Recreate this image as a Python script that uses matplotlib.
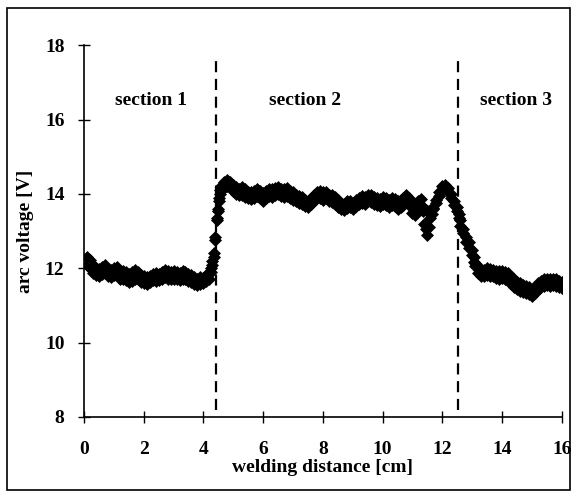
import matplotlib
matplotlib.use("Agg")
import matplotlib.pyplot as plt
from matplotlib.patches import Rectangle

# ---- data (upper and lower readings of the band) ----
distance_cm = [0.1, 0.2, 0.3, 0.4, 0.5, 0.6, 0.7, 0.8, 0.9, 1.0,
               1.1, 1.2, 1.3, 1.4, 1.5, 1.6, 1.7, 1.8, 1.9, 2.0,
               2.1, 2.2, 2.3, 2.4, 2.5, 2.6, 2.7, 2.8, 2.9, 3.0,
               3.1, 3.2, 3.3, 3.4, 3.5, 3.6, 3.7, 3.8, 3.9, 4.0,
               4.1, 4.2, 4.25, 4.3, 4.35, 4.4, 4.45, 4.48, 4.52, 4.56,
               4.6, 4.7, 4.8, 4.9, 5.0, 5.1, 5.2, 5.3, 5.4, 5.5,
               5.6, 5.7, 5.8, 5.9, 6.0, 6.1, 6.2, 6.3, 6.4, 6.5,
               6.6, 6.7, 6.8, 6.9, 7.0, 7.1, 7.2, 7.3, 7.4, 7.5,
               7.6, 7.7, 7.8, 7.9, 8.0, 8.1, 8.2, 8.3, 8.4, 8.5,
               8.6, 8.7, 8.8, 8.9, 9.0, 9.1, 9.2, 9.3, 9.4, 9.5,
               9.6, 9.7, 9.8, 9.9, 10.0, 10.1, 10.2, 10.3, 10.4, 10.5,
               10.6, 10.7, 10.8, 10.9, 11.0, 11.1, 11.2, 11.3, 11.35, 11.4,
               11.45, 11.5, 11.55, 11.6, 11.65, 11.7, 11.8, 11.9, 12.0, 12.1,
               12.2, 12.3, 12.4, 12.5, 12.55, 12.6, 12.7, 12.8, 12.9, 13.0,
               13.05, 13.1, 13.2, 13.3, 13.4, 13.5, 13.6, 13.7, 13.8, 13.9,
               14.0, 14.1, 14.2, 14.3, 14.4, 14.5, 14.6, 14.7, 14.8, 14.9,
               15.0, 15.1, 15.2, 15.3, 15.4, 15.5, 15.6, 15.7, 15.8, 15.9,
               16.0]
voltage_upper_V = [12.3, 12.22, 12.08, 12.02, 11.98, 12.04, 12.08, 11.98, 11.95, 12.02,
                   12.04, 11.94, 11.92, 11.9, 11.85, 11.9, 11.96, 11.9, 11.82, 11.8,
                   11.76, 11.8, 11.85, 11.88, 11.84, 11.9, 11.96, 11.92, 11.9, 11.92,
                   11.9, 11.86, 11.92, 11.9, 11.85, 11.82, 11.76, 11.72, 11.76, 11.75,
                   11.82, 11.88, 12.0, 12.2, 12.4, 12.85, 13.35, 13.6, 13.9, 14.1,
                   14.22, 14.32, 14.38, 14.33, 14.24, 14.18, 14.14, 14.18, 14.12, 14.06,
                   14.04, 14.08, 14.14, 14.08, 14.02, 14.08, 14.14, 14.12, 14.16, 14.18,
                   14.14, 14.12, 14.15, 14.08, 14.04, 13.98, 13.94, 13.92, 13.84, 13.82,
                   13.9, 13.98, 14.06, 14.08, 14.04, 14.06, 13.98, 13.96, 13.92, 13.84,
                   13.76, 13.74, 13.8, 13.82, 13.76, 13.84, 13.9, 13.94, 13.92, 13.98,
                   13.96, 13.92, 13.9, 13.86, 13.92, 13.9, 13.84, 13.9, 13.86, 13.8,
                   13.84, 13.9, 13.98, 13.9, 13.65, 13.6, 13.8, 13.86, 13.55, 13.2,
                   13.05, 12.9, 13.1, 13.35, 13.45, 13.6, 13.85, 14.05, 14.2, 14.25,
                   14.15, 14.0, 13.8, 13.65, 13.45, 13.3, 13.05, 12.85, 12.7, 12.5,
                   12.3, 12.15, 12.04, 11.99, 11.96, 12.02, 11.99, 11.96, 11.94, 11.92,
                   11.94, 11.9, 11.86, 11.76, 11.7, 11.62, 11.6, 11.55, 11.52, 11.5,
                   11.42, 11.5, 11.6, 11.66, 11.7, 11.72, 11.7, 11.72, 11.7, 11.66,
                   11.64]
voltage_lower_V = [12.08, 12.0, 11.88, 11.82, 11.8, 11.85, 11.88, 11.78, 11.76, 11.82,
                   11.85, 11.72, 11.7, 11.68, 11.62, 11.65, 11.72, 11.7, 11.62, 11.6,
                   11.58, 11.62, 11.68, 11.65, 11.68, 11.72, 11.76, 11.72, 11.7, 11.72,
                   11.7, 11.68, 11.72, 11.7, 11.65, 11.62, 11.58, 11.56, 11.58, 11.6,
                   11.66, 11.72, 11.9, 12.1, 12.3, 12.75, 13.3, 13.55, 13.8, 14.0,
                   14.12, 14.15, 14.2, 14.18, 14.08, 14.0, 13.96, 13.98, 13.92, 13.88,
                   13.86, 13.9, 13.95, 13.9, 13.82, 13.9, 13.95, 13.92, 13.98, 14.0,
                   13.95, 13.92, 13.95, 13.9, 13.85, 13.8, 13.75, 13.72, 13.68, 13.65,
                   13.72, 13.82, 13.88, 13.9, 13.85, 13.88, 13.8, 13.78, 13.72, 13.65,
                   13.6, 13.58, 13.62, 13.65, 13.6, 13.68, 13.72, 13.75, 13.72, 13.8,
                   13.78, 13.72, 13.7, 13.68, 13.72, 13.7, 13.65, 13.7, 13.68, 13.6,
                   13.65, 13.7, 13.8, 13.7, 13.48, 13.42, 13.6, 13.68, 13.65, 13.6,
                   13.58, 13.55, 13.55, 13.58, 13.6, 13.62, 13.75, 13.95, 14.1, 14.15,
                   14.05, 13.9, 13.7, 13.55, 13.35, 13.15, 12.95, 12.72, 12.55, 12.35,
                   12.18, 12.05, 11.86, 11.8, 11.78, 11.82, 11.8, 11.78, 11.75, 11.72,
                   11.75, 11.7, 11.68, 11.58, 11.5, 11.43, 11.4, 11.36, 11.33, 11.3,
                   11.26, 11.33, 11.43, 11.5, 11.53, 11.56, 11.53, 11.56, 11.53, 11.5,
                   11.48]

section_bounds = [4.42, 12.52]
section_labels = ["section 1", "section 2", "section 3"]
section_label_x = [2.24, 7.39, 14.47]
x_ticks = [0, 2, 4, 6, 8, 10, 12, 14, 16]
y_ticks = [8, 10, 12, 14, 16, 18]

plt.rcParams['font.family'] = ['Liberation Serif', 'DejaVu Serif']
plt.rcParams['font.weight'] = 'bold'

fig = plt.figure(figsize=(5.75, 4.97), dpi=100)
ax = fig.add_axes([0.146, 0.161, 0.831, 0.748])

for series in (voltage_lower_V, voltage_upper_V):
    ax.plot(distance_cm, series, linestyle='none', marker='D',
            markersize=6.5, color='black', markeredgewidth=0.5)

for xb in section_bounds:
    ax.plot([xb, xb], [8.2, 17.75], color='black', linestyle=(0, (5, 3)),
            linewidth=1.6)

for lab, lx in zip(section_labels, section_label_x):
    ax.text(lx, 16.52, lab, ha='center', va='center', fontsize=14,
            fontweight='bold')

ax.set_xlim(0, 16)
ax.set_ylim(8, 18)
ax.set_xticks(x_ticks)
ax.set_yticks(y_ticks)
ax.tick_params(direction='inout', length=8, width=1, labelsize=14, pad=10)
ax.tick_params(axis='x', pad=13)
for t in ax.get_xticklabels() + ax.get_yticklabels():
    t.set_fontweight('bold')
ax.spines['top'].set_visible(False)
ax.spines['right'].set_visible(False)
ax.spines['left'].set_linewidth(1.2)
ax.spines['bottom'].set_linewidth(1.2)
ax.set_xlabel('welding distance [cm]', fontsize=14, fontweight='bold', labelpad=1)
ax.set_ylabel('arc voltage [V]', fontsize=14, fontweight='bold', labelpad=8)

fig.patches.append(Rectangle((0.012, 0.014), 0.98, 0.97, transform=fig.transFigure,
                             fill=False, edgecolor='black', linewidth=1.2))

fig.savefig('out.png', dpi=100)
